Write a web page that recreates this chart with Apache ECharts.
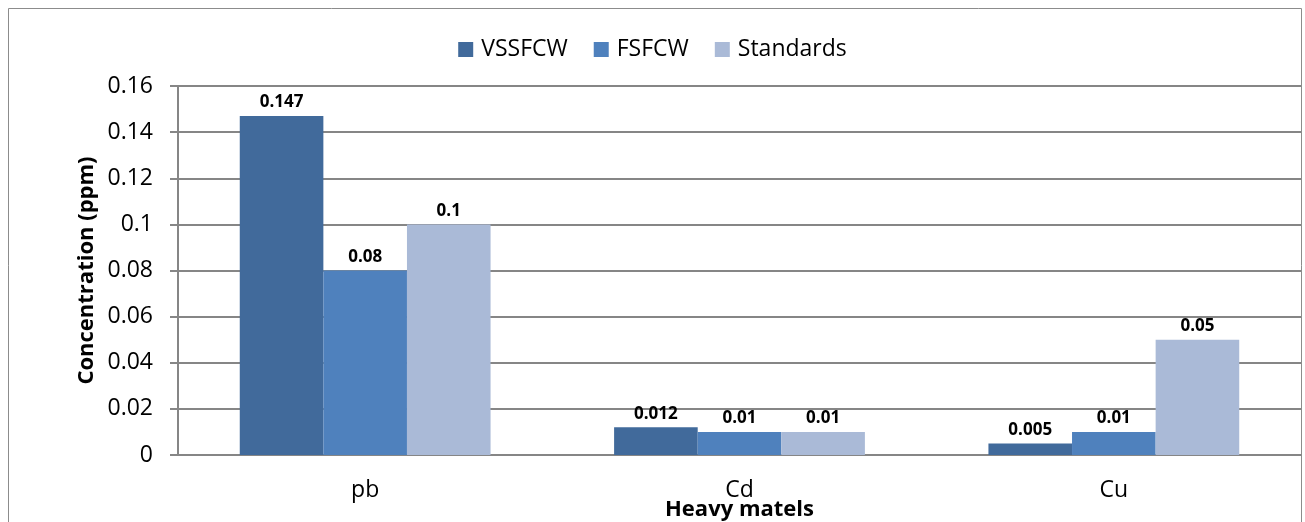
<!DOCTYPE html>
<html><head><meta charset="utf-8">
<script src="https://cdn.jsdelivr.net/npm/echarts@6/dist/echarts.min.js"></script>
<style>html,body{margin:0;padding:0;background:#fff}#c{width:1305px;height:522px}</style>
</head><body><div id="c"></div>
<script>
const categories = ['pb', 'Cd', 'Cu'];
const vssfcw = [0.147, 0.012, 0.005];
const fsfcw = [0.08, 0.01, 0.01];
const standards = [0.1, 0.01, 0.05];
const yTicks = [0, 0.02, 0.04, 0.06, 0.08, 0.1, 0.12, 0.14, 0.16];

const FONT = 'Open Sans';
const chart = echarts.init(document.getElementById('c'));
const lbl = {show: true, position: 'top', distance: 5, color: '#000', fontWeight: 'bold', fontSize: 17, fontFamily: FONT,
  formatter: p => String(p.value)};
chart.setOption({
  animation: false,
  textStyle: {fontFamily: FONT},
  graphic: [{type: 'rect', shape: {x: 8.5, y: 8.5, width: 1293, height: 530}, style: {fill: 'none', stroke: '#8c8c8c', lineWidth: 1}, z: -1}],
  legend: {
    top: 33, left: 'center', itemWidth: 15, itemHeight: 15, itemGap: 26,
    icon: 'rect',
    textStyle: {fontSize: 23, color: '#000', fontFamily: FONT, padding: [0, 0, 0, 3]},
    data: ['VSSFCW', 'FSFCW', 'Standards']
  },
  grid: {left: 178, right: 4, top: 86, bottom: 67, containLabel: false, outerBoundsMode: 'none'},
  xAxis: {
    type: 'category', data: categories,
    name: 'Heavy matels', nameLocation: 'middle', nameGap: 44, nameMoveOverlap: false,
    nameTextStyle: {fontSize: 22, fontWeight: 'bold', color: '#000', fontFamily: FONT},
    axisLine: {lineStyle: {color: '#868686', width: 2}},
    axisTick: {show: false},
    axisLabel: {fontSize: 23, color: '#000', margin: 24, fontFamily: FONT}
  },
  yAxis: {
    type: 'value', min: 0, max: 0.16, interval: 0.02,
    name: 'Concentration (ppm)', nameLocation: 'middle', nameGap: 80, nameRotate: 90, nameMoveOverlap: false,
    nameTextStyle: {fontSize: 22, fontWeight: 'bold', color: '#000', fontFamily: FONT},
    axisLine: {show: true, lineStyle: {color: '#868686', width: 2}},
    axisTick: {show: true, inside: false, length: 8, lineStyle: {color: '#868686', width: 2}},
    splitLine: {lineStyle: {color: '#868686', width: 2}},
    axisLabel: {fontSize: 23, color: '#000', margin: 25, fontFamily: FONT,
      formatter: v => { const t = yTicks.find(x => Math.abs(x - v) < 1e-9); return String(t !== undefined ? t : v); }}
  },
  series: [
    {name: 'VSSFCW', type: 'bar', data: vssfcw, barGap: '0%', barCategoryGap: '33%', itemStyle: {color: '#416A9B'}, label: lbl},
    {name: 'FSFCW', type: 'bar', data: fsfcw, itemStyle: {color: '#4F81BD'}, label: lbl},
    {name: 'Standards', type: 'bar', data: standards, itemStyle: {color: '#AABAD7'}, label: lbl}
  ]
});
</script></body></html>
